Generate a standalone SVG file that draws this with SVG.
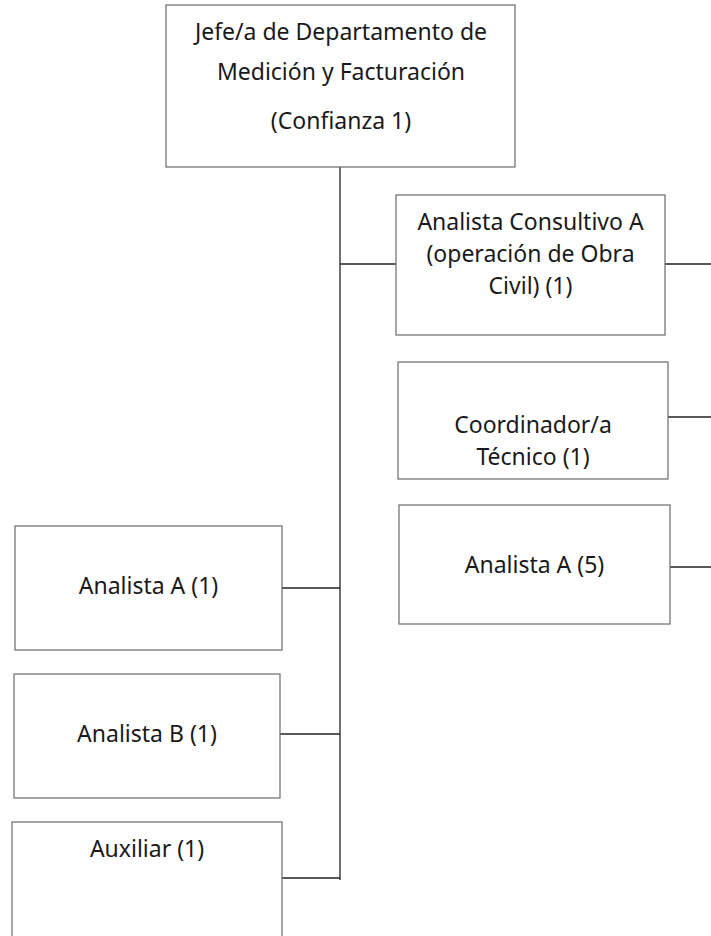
<svg xmlns="http://www.w3.org/2000/svg" width="711" height="936" viewBox="0 0 711 936">
<style>
.box{fill:#fff;stroke:#6a6a6a;stroke-width:1.2}
.lbl{font-family:"Noto Sans","Open Sans","Liberation Sans",sans-serif;font-size:23px;fill:#1a1a1a;text-anchor:middle}
.con line{stroke:#222;stroke-width:1.3}
</style>
<rect width="711" height="936" fill="#fff"/>
<g class="con">
<line x1="340" y1="167" x2="340" y2="880"/>
<line x1="340" y1="264" x2="396" y2="264"/>
<line x1="665" y1="264" x2="711" y2="264"/>
<line x1="668" y1="417" x2="711" y2="417"/>
<line x1="670" y1="567" x2="711" y2="567"/>
<line x1="282" y1="588" x2="340" y2="588"/>
<line x1="280" y1="734" x2="340" y2="734"/>
<line x1="282" y1="878" x2="340" y2="878"/>
</g>
<g id="jefe">
<rect class="box" x="166" y="5" width="349" height="162"/>
<text class="lbl" x="341" y="40">Jefe/a de Departamento de</text>
<text class="lbl" x="341" y="80">Medición y Facturación</text>
<text class="lbl" x="341" y="129">(Confianza 1)</text>
</g>
<g id="analista-consultivo">
<rect class="box" x="396" y="195" width="269" height="140"/>
<text class="lbl" x="530.5" y="230">Analista Consultivo A</text>
<text class="lbl" x="530.5" y="262">(operación de Obra</text>
<text class="lbl" x="530.5" y="294">Civil) (1)</text>
</g>
<g id="coordinador">
<rect class="box" x="398" y="362" width="270" height="117"/>
<text class="lbl" x="533" y="433">Coordinador/a</text>
<text class="lbl" x="533" y="465">Técnico (1)</text>
</g>
<g id="analista-a5">
<rect class="box" x="399" y="505" width="271" height="119"/>
<text class="lbl" x="534.5" y="573">Analista A (5)</text>
</g>
<g id="analista-a1">
<rect class="box" x="15" y="526" width="267" height="124"/>
<text class="lbl" x="148.5" y="594">Analista A (1)</text>
</g>
<g id="analista-b1">
<rect class="box" x="14" y="674" width="266" height="124"/>
<text class="lbl" x="147" y="742">Analista B (1)</text>
</g>
<g id="auxiliar">
<rect class="box" x="12" y="822" width="270" height="130"/>
<text class="lbl" x="147" y="857">Auxiliar (1)</text>
</g>
</svg>
